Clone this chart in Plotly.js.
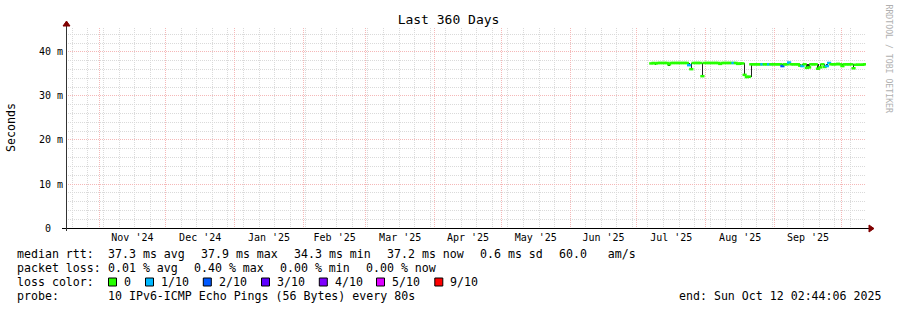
<!DOCTYPE html>
<html><head><meta charset="utf-8">
<script src="https://cdn.plot.ly/plotly-3.0.1.min.js"></script>
<style>html,body{margin:0;padding:0;background:#fff}</style>
</head><body>
<div id="chart" style="width:897px;height:310px"></div>
<script>
// ---- data ----
const rangeStart = '2024-10-17 02:44:06';
const rangeEnd = '2025-10-12 02:44:06';
// daily consolidated samples, first sample 2025-07-07 12:00
const sampleStartUTC = Date.UTC(2025, 6, 7, 12, 0, 0);
const sampleStepMs = 86400000;
const medianRtt = [
  // Jul 7 - Jul 31
  37.4,37.5,37.4,37.5,37.5,37.5,37.5,37.5,37.2,37.5,37.5,37.5,37.5,37.5,37.5,37.5,37.5,37.0,36.1,37.5,37.5,37.5,37.5,34.5,37.5,
  // Aug 1 - Aug 31
  37.5,37.5,37.5,37.5,37.5,37.5,37.3,37.5,37.5,37.5,37.5,37.5,37.5,37.5,37.3,37.4,37.4,34.8,34.3,34.4,37.2,37.2,37.2,37.2,37.2,37.2,37.2,37.2,37.2,37.2,37.2,
  // Sep 1 - Sep 30
  37.2,37.2,37.2,36.8,37.2,37.2,37.6,37.2,37.2,37.2,37.2,36.9,36.8,37.2,36.4,36.5,37.2,37.2,37.2,36.2,36.5,37.2,36.6,36.8,37.5,37.2,37.2,37.2,37.3,37.2,
  // Oct 1 - Oct 11
  36.8,37.2,37.2,37.2,37.2,36.3,37.1,37.1,37.1,37.1,37.2
];
const lossCount = [
  0,0,0,0,0,0,0,0,0,0,0,0,0,0,0,0,0,1,0,0,0,0,0,0,0,
  0,0,0,0,0,0,0,0,0,0,0,0,1,0,0,0,0,0,0,0,0,0,0,0,0,1,0,0,1,0,0,
  0,0,0,2,0,0,1,0,0,0,0,0,1,0,0,0,0,0,0,0,0,0,0,1,1,0,0,0,0,0,
  0,0,0,0,0,0,0,0,0,0,0
];
const pingMin = [
  37.3,37.4,37.0,37.4,37.4,37.4,37.4,37.4,36.9,37.4,37.4,37.4,37.4,37.4,37.4,37.4,37.4,36.8,35.9,37.4,37.4,37.4,37.4,34.3,37.4,
  37.4,37.4,37.4,37.4,37.4,37.4,37.0,37.4,37.4,37.4,37.4,37.4,37.4,37.4,37.0,37.1,37.3,34.5,34.1,34.2,34.4,37.1,37.1,37.1,37.1,37.1,37.1,37.1,37.1,37.1,37.1,
  37.1,37.1,37.1,36.6,37.1,37.1,37.5,37.1,37.1,37.1,37.1,36.7,36.7,37.1,36.2,36.3,37.1,37.1,37.1,36.0,36.4,37.1,36.4,36.7,37.4,37.1,37.1,37.1,37.2,37.1,
  36.6,37.1,37.1,37.1,37.1,36.1,37.0,37.0,37.0,37.0,37.1
];
const pingMax = [
  37.5,37.6,37.5,37.6,37.6,37.6,37.6,37.6,37.5,37.6,37.6,37.6,37.6,37.6,37.6,37.6,37.6,37.5,37.4,37.6,37.6,37.6,37.6,37.5,37.6,
  37.6,37.6,37.6,37.6,37.6,37.6,37.5,37.6,37.6,37.6,37.6,37.6,37.6,37.6,37.5,37.5,37.5,37.5,34.5,34.6,37.3,37.3,37.3,37.3,37.3,37.3,37.3,37.3,37.3,37.3,37.3,
  37.3,37.3,37.3,37.2,37.3,37.3,37.7,37.3,37.3,37.3,37.3,37.2,37.2,37.3,37.2,37.2,37.3,37.3,37.3,37.2,37.2,37.3,37.2,37.2,37.6,37.3,37.3,37.3,37.4,37.3,
  37.2,37.3,37.3,37.3,37.3,37.2,37.2,37.2,37.2,37.2,37.3
];
const lossLevels = [0, 1, 2, 3, 4, 5, 9];
const lossLabels = ['0', '1/10', '2/10', '3/10', '4/10', '5/10', '9/10'];
const lossColors = ['#26ff00', '#00b8ff', '#0059ff', '#5e00ff', '#7e00ff', '#dd00ff', '#ff0000'];
const yTickVals = [0, 10, 20, 30, 40];
const yTickText = ['0\u00a0\u00a0', '10 m', '20 m', '30 m', '40 m'];
const chartTitle = 'Last 360 Days';
const yTitle = 'Seconds';
const statRows = [
  ['median rtt:', '37.3 ms avg', '37.9 ms max', '34.3 ms min', '37.2 ms now', '0.6 ms sd', '60.0\u00a0\u00a0\u00a0am/s'],
  ['packet loss:', '0.01 % avg', '0.40 % max', '0.00 % min', '0.00 % now']
];
const probeText = ['probe:', '10 IPv6-ICMP Echo Pings (56 Bytes) every 80s'];
const endText = 'end: Sun Oct 12 02:44:06 2025';
const creditText = 'RRDTOOL / TOBI OETIKER';

// ---- layout helpers (pixel -> paper) ----
const L = 66, T = 28, PW = 800, PH = 200;
const px = v => (v - L) / PW;
const py = v => (T + PH - v) / PH;
const MONO = 'DejaVu Sans Mono';

const times = medianRtt.map((_, i) => new Date(sampleStartUTC + i * sampleStepMs).toISOString().slice(0, 19).replace('T', ' '));
const colorOfLoss = n => { let c = lossColors[0]; lossLevels.forEach((lv, k) => { if (n >= lv) c = lossColors[k]; }); return c; };

const smoke = {
  type: 'bar', x: times, base: pingMin, y: pingMax.map((v, i) => v - pingMin[i]),
  width: sampleStepMs * 0.6, marker: {color: '#222', line: {width: 0}},
  hoverinfo: 'skip', showlegend: false
};
const median = {
  type: 'scatter', mode: 'markers', x: times, y: medianRtt,
  marker: {symbol: 'line-ew', size: 3, line: {width: 2.5, color: lossCount.map(colorOfLoss)}},
  showlegend: false
};

const ann = [];
const txt = (x, y, s, extra) => ann.push(Object.assign({xref: 'paper', yref: 'paper', x: px(x), y: py(y), text: s, showarrow: false,
  xanchor: 'left', yanchor: 'middle', borderpad: 0, font: {family: MONO, size: 11.6, color: '#000'}}, extra || {}));

// stats rows
const rowX = [[16, 107, 200, 293, 386, 479, 558], [16, 107, 193, 279, 365]];
const rowY = [254, 268];
statRows.forEach((row, r) => row.forEach((s, k) => txt(rowX[r][k], rowY[r], s)));
// loss colour row
txt(16, 282, 'loss color:');
const boxX = [108.5, 145.5, 203.3, 261.5, 319.3, 376.5, 434.8];
const shapes = [];
lossLabels.forEach((lab, k) => {
  shapes.push({type: 'rect', xref: 'paper', yref: 'paper', x0: px(boxX[k]), x1: px(boxX[k] + 8), y0: py(278), y1: py(286),
    fillcolor: lossColors[k], line: {color: '#000', width: 1}});
  txt(boxX[k] + 14.5, 282, lab);
});
txt(16, 296, probeText[0]);
txt(107, 296, probeText[1]);
txt(678, 296, endText);
// y title
ann.push({xref: 'paper', yref: 'paper', x: px(11), y: py(127), text: yTitle, textangle: -90, showarrow: false,
  xanchor: 'center', yanchor: 'middle', font: {family: MONO, size: 11.6, color: '#000'}});
// credit
ann.push({xref: 'paper', yref: 'paper', x: px(888.5), y: py(59), text: creditText, textangle: 90, showarrow: false,
  xanchor: 'center', yanchor: 'middle', font: {family: MONO, size: 8.2, color: '#b0b0b0'}});

// axes lines and arrows
shapes.push({type: 'line', xref: 'paper', yref: 'paper', x0: px(62), x1: px(869), y0: py(228.5), y1: py(228.5), line: {color: '#000', width: 1}});
shapes.push({type: 'line', xref: 'paper', yref: 'paper', x0: px(66.5), x1: px(66.5), y0: py(231), y1: py(25), line: {color: '#333', width: 1}});
shapes.push({type: 'path', xref: 'paper', yref: 'paper', fillcolor: '#800000', line: {color: '#800000', width: 1},
  path: `M ${px(869)} ${py(225)} L ${px(874)} ${py(228.5)} L ${px(869)} ${py(232)} Z`});
shapes.push({type: 'path', xref: 'paper', yref: 'paper', fillcolor: '#800000', line: {color: '#800000', width: 1},
  path: `M ${px(63)} ${py(26)} L ${px(66.5)} ${py(21)} L ${px(70)} ${py(26)} Z`});

const layout = {
  width: 897, height: 310,
  margin: {l: L, r: 897 - L - PW, t: T, b: 310 - T - PH, pad: 0},
  paper_bgcolor: '#fff', plot_bgcolor: '#fff',
  showlegend: false,
  title: {text: chartTitle, x: 0.5, xref: 'container', xanchor: 'center', y: 1 - 19.5 / 310, yanchor: 'middle',
    font: {family: MONO, size: 13, color: '#000'}},
  xaxis: {
    type: 'date', range: [rangeStart, rangeEnd], fixedrange: true,
    tick0: '2024-11-01', dtick: 'M1', ticklabelmode: 'period', tickformat: "%b '%y",
    showgrid: true, gridcolor: '#f5b8b8', griddash: '1px,1px', gridwidth: 1,
    minor: {dtick: 7 * 86400000, tick0: '2024-10-20', showgrid: true, gridcolor: '#dadada', griddash: '1px,1px', gridwidth: 1},
    ticks: '', showline: false, zeroline: false, ticklabelstandoff: 2,
    tickfont: {family: MONO, size: 10, color: '#000'}
  },
  yaxis: {
    range: [0, 45.45], fixedrange: true,
    tickvals: yTickVals, ticktext: yTickText,
    showgrid: true, gridcolor: '#f5b8b8', griddash: '1px,1px', gridwidth: 1,
    minor: {dtick: 2, tick0: 0, showgrid: true, gridcolor: '#dadada', griddash: '1px,1px', gridwidth: 1},
    ticks: '', showline: false, zeroline: false, ticklabelstandoff: 2,
    tickfont: {family: MONO, size: 10, color: '#000'}
  },
  bargap: 0,
  annotations: ann,
  shapes: shapes
};

Plotly.newPlot('chart', [smoke, median], layout, {staticPlot: true, displayModeBar: false});
</script>
</body></html>
